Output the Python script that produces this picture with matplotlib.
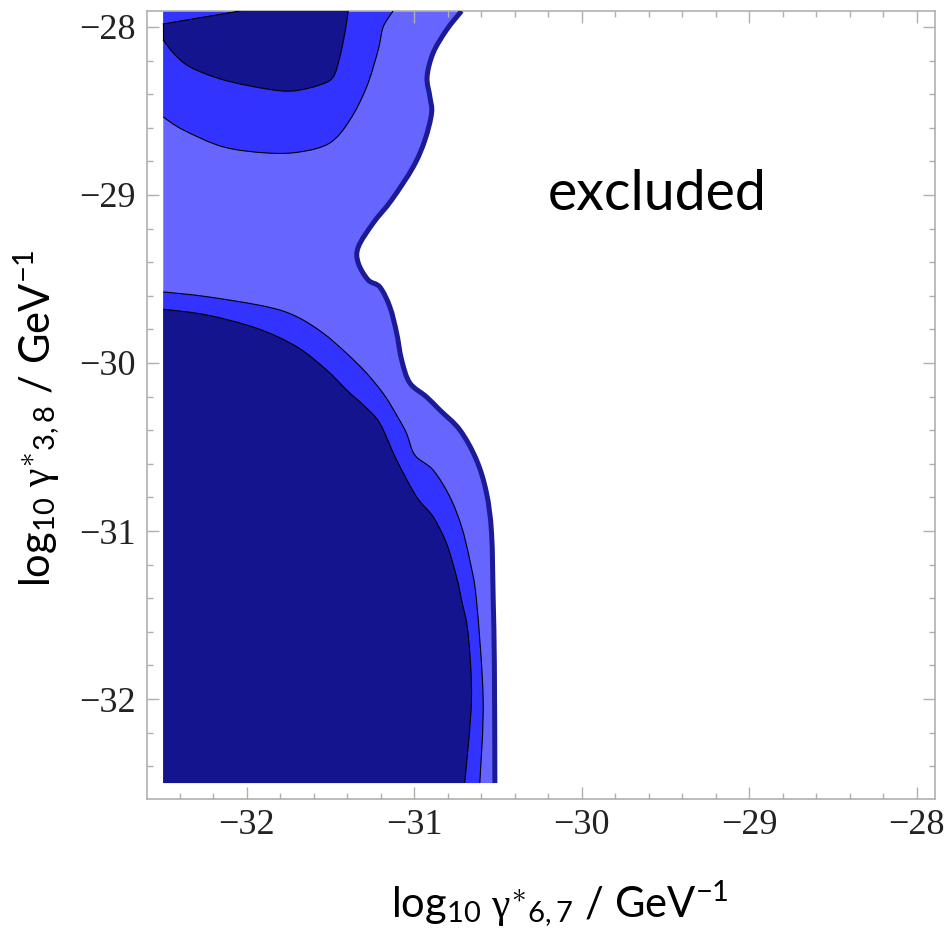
import numpy as np
import matplotlib
matplotlib.use("Agg")
import matplotlib.pyplot as plt
from matplotlib.path import Path
from matplotlib.patches import PathPatch
from matplotlib.ticker import MultipleLocator

# ---------------- data (log10 units) ----------------
# outer boundary of the allowed region (thick line), from top to bottom
outer_x = [-30.718, -30.808, -30.888, -30.924, -30.907, -30.897, -30.937, -31.007,
           -31.136, -31.246, -31.335, -31.335, -31.276, -31.206, -31.146, -31.106,
           -31.076, -31.027, -30.927, -30.848, -30.728, -30.629, -30.569, -30.539,
           -30.529, -30.522, -30.519]
outer_y = [-27.905, -28.018, -28.155, -28.298, -28.417, -28.512, -28.673, -28.833,
           -29.030, -29.167, -29.310, -29.405, -29.506, -29.548, -29.667, -29.821,
           -29.982, -30.119, -30.202, -30.280, -30.399, -30.577, -30.774, -31.012,
           -31.411, -31.800, -32.500]

# upper middle contour (light / bright), left to right
top_mid_x = [-32.5, -32.380, -32.141, -31.882, -31.684, -31.504, -31.385, -31.285,
             -31.216, -31.186, -31.127]
top_mid_y = [-28.536, -28.613, -28.714, -28.750, -28.744, -28.690, -28.554, -28.357,
             -28.137, -28.000, -27.905]

# upper inner contour (bright / dark): from the left edge round to the top edge
top_in_x = [-32.5, -32.440, -32.340, -32.141, -31.882, -31.724, -31.564, -31.485,
            -31.445, -31.415, -31.395]
top_in_y = [-28.077, -28.155, -28.238, -28.315, -28.369, -28.381, -28.345, -28.298,
            -28.179, -28.036, -27.905]
# short straight contour in the top-left corner (top edge to left edge)
top_corner_x = [-32.042, -32.5]
top_corner_y = [-27.905, -27.982]

# lower middle contour (light / bright), top-left to bottom
bot_mid_x = [-32.5, -32.241, -31.882, -31.703, -31.544, -31.405, -31.285, -31.180,
             -31.100, -31.047, -30.997, -30.888, -30.788, -30.718, -30.669, -30.629,
             -30.589, -30.609]
bot_mid_y = [-29.577, -29.605, -29.665, -29.724, -29.823, -29.942, -30.061, -30.190,
             -30.320, -30.418, -30.548, -30.637, -30.796, -30.974, -31.173, -31.411,
             -32.006, -32.500]

# lower inner contour (bright / dark)
bot_in_x = [-32.5, -32.241, -31.942, -31.703, -31.524, -31.400, -31.300, -31.206,
            -31.106, -30.987, -30.888, -30.808, -30.748, -30.718, -30.679, -30.659,
            -30.699]
bot_in_y = [-29.680, -29.714, -29.793, -29.903, -30.042, -30.165, -30.255, -30.359,
            -30.577, -30.796, -30.915, -31.073, -31.272, -31.411, -31.609, -32.006,
            -32.500]

data_left = -32.5
data_bottom = -32.5
data_top = -27.905

x_ticks = [-32, -31, -30, -29, -28]
y_ticks = [-32, -31, -30, -29, -28]
x_tick_labels = ["\u221232", "\u221231", "\u221230", "\u221229", "\u221228"]
y_tick_labels = ["\u221232", "\u221231", "\u221230", "\u221229", "\u221228"]

annotation = "excluded"

# ---------------- styling ----------------
c_dark = "#14148f"
c_bright = "#3333ff"
c_light = "#6666ff"
c_outer = "#1b1b96"
frame_col = "#b0b0b0"

plt.rcParams["mathtext.fontset"] = "custom"
plt.rcParams["mathtext.rm"] = "Lato"
plt.rcParams["mathtext.it"] = "Liberation Serif"
plt.rcParams["mathtext.bf"] = "Lato:bold"


def smooth_segments(xs, ys):
    """Cubic Bezier (Catmull-Rom) segments through the given points.
    Returns vertices/codes excluding the first point."""
    p = np.column_stack([xs, ys]).astype(float)
    n = len(p)
    verts, codes = [], []
    for i in range(n - 1):
        p0 = p[i - 1] if i > 0 else p[i]
        p1 = p[i]
        p2 = p[i + 1]
        p3 = p[i + 2] if i + 2 < n else p[i + 1]
        c1 = p1 + (p2 - p0) / 6.0
        c2 = p2 - (p3 - p1) / 6.0
        verts += [tuple(c1), tuple(c2), tuple(p2)]
        codes += [Path.CURVE4] * 3
    return verts, codes


def curve_path(xs, ys):
    v, c = smooth_segments(xs, ys)
    return Path([(xs[0], ys[0])] + v, [Path.MOVETO] + c)


def region_path(pieces):
    """pieces: list of ('line', x, y) or ('curve', xs, ys), joined in order, closed."""
    verts, codes = [], []
    for kind, xs, ys in pieces:
        if kind == "line":
            verts.append((xs, ys))
            codes.append(Path.MOVETO if not codes else Path.LINETO)
        else:
            verts.append((xs[0], ys[0]))
            codes.append(Path.MOVETO if not codes else Path.LINETO)
            v, c = smooth_segments(xs, ys)
            verts += v
            codes += c
    verts.append(verts[0])
    codes.append(Path.CLOSEPOLY)
    return Path(verts, codes)


fig = plt.figure(figsize=(9.52, 9.43), dpi=100)
ax = fig.add_axes([147 / 952, 1 - 799 / 943, (935 - 147) / 952, (799 - 11) / 943])

# light region: left edge, bottom edge, outer boundary
light = region_path([("line", data_left, data_top),
                     ("line", data_left, data_bottom),
                     ("curve", outer_x[::-1], outer_y[::-1])])
ax.add_patch(PathPatch(light, facecolor=c_light, lw=0, zorder=1))

# upper bright region
upper_bright = region_path([("curve", top_mid_x, top_mid_y),
                            ("line", data_left, data_top)])
ax.add_patch(PathPatch(upper_bright, facecolor=c_bright, lw=0, zorder=2))

# upper dark region
upper_dark = region_path([("curve", top_in_x, top_in_y),
                          ("line", top_corner_x[0], top_corner_y[0]),
                          ("line", top_corner_x[1], top_corner_y[1])])
ax.add_patch(PathPatch(upper_dark, facecolor=c_dark, lw=0, zorder=3))

# lower bright region
lower_bright = region_path([("line", data_left, data_bottom),
                            ("curve", bot_mid_x, bot_mid_y)])
ax.add_patch(PathPatch(lower_bright, facecolor=c_bright, lw=0, zorder=2))

# lower dark region
lower_dark = region_path([("line", data_left, data_bottom),
                          ("curve", bot_in_x, bot_in_y)])
ax.add_patch(PathPatch(lower_dark, facecolor=c_dark, lw=0, zorder=3))

# thin contour lines
for xs, ys in [(top_mid_x, top_mid_y), (top_in_x, top_in_y),
               (bot_mid_x, bot_mid_y), (bot_in_x, bot_in_y)]:
    ax.add_patch(PathPatch(curve_path(xs, ys), facecolor="none",
                           edgecolor="black", lw=0.8, zorder=5))
ax.plot(top_corner_x, top_corner_y, color="black", lw=0.8, zorder=5)
ax.plot([data_left, data_left], [top_corner_y[1], top_in_y[0]],
        color="black", lw=0.8, zorder=5)

# outer thick boundary
ax.add_patch(PathPatch(curve_path(outer_x, outer_y), facecolor="none",
                       edgecolor=c_outer, lw=3.6, capstyle="butt",
                       joinstyle="round", zorder=6))

ax.text(-29.55, -29.09, annotation, fontsize=40, family="Lato",
        ha="center", va="baseline", color="black")

ax.set_xlim(-32.597, -27.89)
ax.set_ylim(-32.595, -27.905)

ax.set_xticks(x_ticks)
ax.set_xticklabels(x_tick_labels)
ax.set_yticks(y_ticks)
ax.set_yticklabels(y_tick_labels)
ax.xaxis.set_minor_locator(MultipleLocator(0.2))
ax.yaxis.set_minor_locator(MultipleLocator(0.2))
for lab in ax.get_xticklabels() + ax.get_yticklabels():
    lab.set_fontfamily("Liberation Serif")
    lab.set_fontsize(26)
    lab.set_color("#222222")
ax.tick_params(which="both", direction="in", top=True, right=True,
               color=frame_col, width=1.0)
ax.tick_params(which="major", length=8.5)
ax.tick_params(which="minor", length=4.5)
ax.tick_params(axis="x", which="major", pad=7)
ax.tick_params(axis="y", which="major", pad=8)
for sp in ax.spines.values():
    sp.set_color(frame_col)
    sp.set_linewidth(1.2)

fig.text(560 / 952, 1 - 904 / 943,
         r"$\mathrm{log}_{\mathrm{10}}\ \gamma^{\ast}{}_{\mathrm{6,7}}\ \mathrm{/\ GeV^{-1}}$",
         fontsize=30, ha="center", va="center")
fig.text(36.5 / 952, 1 - 418.5 / 943,
         r"$\mathrm{log}_{\mathrm{10}}\ \gamma^{\ast}{}_{\mathrm{3,8}}\ \mathrm{/\ GeV^{-1}}$",
         fontsize=30, ha="center", va="center", rotation=90)

fig.savefig("out.png", dpi=100, facecolor="white")
